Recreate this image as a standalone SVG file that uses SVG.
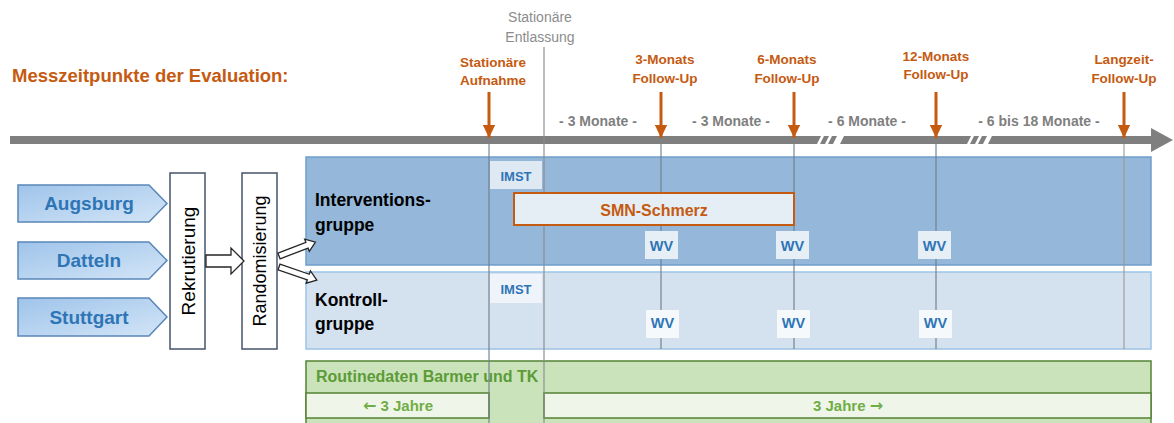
<svg xmlns="http://www.w3.org/2000/svg" width="1174" height="423" viewBox="0 0 1174 423">
<defs>
<linearGradient id="pent" x1="0" y1="0" x2="1" y2="1">
<stop offset="0" stop-color="#9fc4ea"/>
<stop offset="1" stop-color="#d3e5f7"/>
</linearGradient>
<marker id="oarr" markerWidth="4.5" markerHeight="4.2" refX="4.5" refY="2.1" orient="auto" markerUnits="strokeWidth">
<path d="M0,0 L4.5,2.1 L0,4.2 z" fill="#c55a11"/>
</marker>
</defs>
<style>
text{font-family:"Liberation Sans",Arial,sans-serif}
.or{fill:#c55a11;font-weight:bold;font-size:13.5px;text-anchor:middle}
.gr{fill:#8c8c8c;font-size:14px;text-anchor:middle}
.iv{fill:#7f7f7f;font-weight:bold;font-size:14px;text-anchor:middle}
.bar{fill:#7f7f7f}
.vl{stroke:#6f7d8c;stroke-opacity:0.75;stroke-width:1.5;fill:none}
.pent{fill:url(#pent);stroke:#5a87b8;stroke-width:1.5}
.city{fill:#2e75b6;font-weight:bold;font-size:19px;text-anchor:middle}
.vbox{fill:#fff;stroke:#44546a;stroke-width:1.5}
.vt{fill:#000;font-size:19px;text-anchor:middle;dominant-baseline:central}
.grp{fill:#000;font-weight:bold;font-size:17.5px}
.tag{fill:#2e75b6;font-weight:bold;font-size:13px;text-anchor:middle}
.blk{fill:#fff;stroke:#262626;stroke-width:1.3}
.oa{stroke:#c55a11;stroke-width:3;fill:none}
.grn{fill:#5b9b37;font-weight:bold;font-size:16px}
.jt{fill:#70ad47;font-weight:bold;font-size:15px;text-anchor:middle}
.ar{font-family:"DejaVu Sans",sans-serif;font-weight:bold;font-size:16px}
</style>
<rect width="1174" height="423" fill="#fff"/>

<g id="title">
<text x="12" y="82" style="fill:#c55a11;font-weight:bold;font-size:18.5px">Messzeitpunkte der Evaluation:</text>
</g>

<g id="timeline">
<polygon class="bar" points="10,136 821,136 817,144 10,144"/>
<polygon class="bar" points="824,136 829,136 825,144 820,144"/>
<polygon class="bar" points="832,136 837,136 833,144 828,144"/>
<polygon class="bar" points="844,136 971,136 967,144 840,144"/>
<polygon class="bar" points="974,136 979,136 975,144 970,144"/>
<polygon class="bar" points="982,136 987,136 983,144 978,144"/>
<polygon class="bar" points="992,136 1152,136 1152,144 988,144"/>
<polygon class="bar" points="1151,128 1173,140 1151,152"/>
<text class="iv" x="598" y="126">- 3 Monate -</text>
<text class="iv" x="731" y="126">- 3 Monate -</text>
<text class="iv" x="867" y="126">- 6 Monate -</text>
<text class="iv" x="1039" y="126">- 6 bis 18 Monate -</text>
</g>

<g id="label-aufnahme"><text class="or" x="493" y="67">Stationäre</text><text class="or" x="493" y="85">Aufnahme</text></g>
<g id="label-entlassung"><text class="gr" x="540" y="22">Stationäre</text><text class="gr" x="540" y="42">Entlassung</text></g>
<g id="label-3m"><text class="or" x="665" y="64">3-Monats</text><text class="or" x="665" y="83">Follow-Up</text></g>
<g id="label-6m"><text class="or" x="787" y="64">6-Monats</text><text class="or" x="787" y="83">Follow-Up</text></g>
<g id="label-12m"><text class="or" x="936" y="61">12-Monats</text><text class="or" x="936" y="79">Follow-Up</text></g>
<g id="label-lz"><text class="or" x="1124" y="64">Langzeit-</text><text class="or" x="1124" y="83">Follow-Up</text></g>

<g id="augsburg"><polygon class="pent" points="18,185 149,185 167,203.5 149,222 18,222"/><text class="city" x="89" y="210">Augsburg</text></g>
<g id="datteln"><polygon class="pent" points="18,242 149,242 167,260.5 149,279 18,279"/><text class="city" x="89" y="267">Datteln</text></g>
<g id="stuttgart"><polygon class="pent" points="18,298 149,298 167,317 149,336 18,336"/><text class="city" x="89" y="324">Stuttgart</text></g>

<g id="rekrutierung"><rect class="vbox" x="170" y="173" width="35" height="176"/><text class="vt" transform="translate(188,261) rotate(-90)">Rekrutierung</text></g>
<g id="randomisierung"><rect class="vbox" x="242" y="173" width="35" height="176"/><text class="vt" style="font-size:18px" transform="translate(260,261) rotate(-90)">Randomisierung</text></g>

<g id="interventionsgruppe">
<rect x="306" y="157" width="845" height="108" fill="#95b8da" stroke="#6d9eca" stroke-width="1.5"/>
<text class="grp" x="315" y="206">Interventions-</text>
<text class="grp" x="315" y="231">gruppe</text>
</g>
<g id="kontrollgruppe">
<rect x="306" y="272" width="845" height="77" fill="#d4e2f0" stroke="#9dc3e6" stroke-width="1.5"/>
<text class="grp" x="315" y="306">Kontroll-</text>
<text class="grp" x="315" y="330">gruppe</text>
</g>

<g id="routinedaten">
<rect x="306" y="361" width="845" height="70" fill="#cbe3bb" stroke="#548235" stroke-width="1.5"/>
<text class="grn" x="316" y="382">Routinedaten Barmer und TK</text>
<rect x="306" y="393" width="183" height="25" fill="#eff6e9" stroke="#548235" stroke-width="1.5"/>
<rect x="544" y="393" width="607" height="25" fill="#eff6e9" stroke="#548235" stroke-width="1.5"/>
<text class="jt" x="398" y="411"><tspan class="ar">←</tspan> 3 Jahre</text>
<text class="jt" x="848" y="411">3 Jahre <tspan class="ar">→</tspan></text>
</g>

<g id="gridlines">
<line class="vl" x1="489" y1="144" x2="489" y2="423"/>
<line class="vl" x1="544" y1="47" x2="544" y2="423" style="stroke:#8a8a8a"/>
<line class="vl" x1="661" y1="144" x2="661" y2="349"/>
<line class="vl" x1="794" y1="144" x2="794" y2="349"/>
<line class="vl" x1="936" y1="144" x2="936" y2="349"/>
<line class="vl" x1="1124" y1="144" x2="1124" y2="349" style="stroke:#9a9a9a"/>
</g>

<g id="imst-int"><rect x="490" y="161" width="52" height="28" fill="#dfe9f4"/><text class="tag" x="516" y="181">IMST</text></g>
<g id="imst-kon"><rect x="490" y="274" width="52" height="29" fill="#eef4fa"/><text class="tag" x="516" y="294">IMST</text></g>
<g id="smn-schmerz"><rect x="514" y="193" width="280" height="32" fill="#eaf0f7" fill-opacity="0.95" stroke="#c55a11" stroke-width="2"/><text x="654" y="216" style="fill:#c55a11;font-weight:bold;font-size:16px;text-anchor:middle">SMN-Schmerz</text></g>
<g id="wv-int-3"><rect x="645" y="231" width="33" height="28" fill="#e6eef6"/><text class="tag" style="font-size:14.5px" x="661.5" y="251">WV</text></g>
<g id="wv-int-6"><rect x="776" y="231" width="33" height="28" fill="#e6eef6"/><text class="tag" style="font-size:14.5px" x="792.5" y="251">WV</text></g>
<g id="wv-int-12"><rect x="918" y="231" width="33" height="28" fill="#e6eef6"/><text class="tag" style="font-size:14.5px" x="934.5" y="251">WV</text></g>
<g id="wv-kon-3"><rect x="646" y="310" width="33" height="28" fill="#f5f9fc"/><text class="tag" style="font-size:14.5px" x="662.5" y="328">WV</text></g>
<g id="wv-kon-6"><rect x="777" y="310" width="33" height="28" fill="#f5f9fc"/><text class="tag" style="font-size:14.5px" x="793.5" y="328">WV</text></g>
<g id="wv-kon-12"><rect x="919" y="310" width="33" height="28" fill="#f5f9fc"/><text class="tag" style="font-size:14.5px" x="935.5" y="328">WV</text></g>

<g id="connectors">
<polygon class="blk" points="206,255 231,255 231,248 244,261 231,274 231,267 206,267"/>
<polygon class="blk" transform="translate(279,256) rotate(-21)" points="0,-3 30,-3 30,-6.5 39,0 30,6.5 30,3 0,3"/>
<polygon class="blk" transform="translate(279,267) rotate(19)" points="0,-3 31,-3 31,-6.5 40,0 31,6.5 31,3 0,3"/>
<line class="oa" x1="489" y1="92" x2="489" y2="138" marker-end="url(#oarr)"/>
<line class="oa" x1="661" y1="92" x2="661" y2="138" marker-end="url(#oarr)"/>
<line class="oa" x1="794" y1="92" x2="794" y2="138" marker-end="url(#oarr)"/>
<line class="oa" x1="936" y1="92" x2="936" y2="138" marker-end="url(#oarr)"/>
<line class="oa" x1="1124" y1="92" x2="1124" y2="138" marker-end="url(#oarr)"/>
</g>
</svg>
